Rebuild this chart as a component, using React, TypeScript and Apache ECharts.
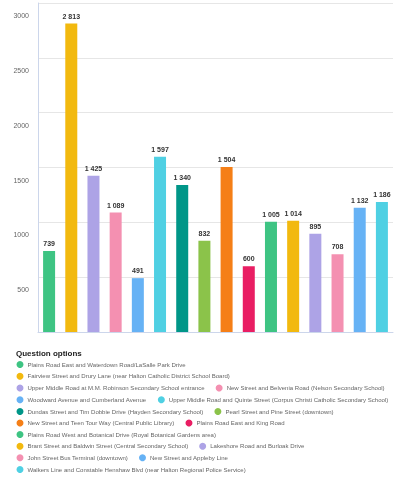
import React, { useEffect, useRef } from "react";
import * as echarts from "echarts";

const categories: string[] = [
  "Plains Road East and Waterdown Road/LaSalle Park Drive",
  "Fairview Street and Drury Lane (near Halton Catholic District School Board)",
  "Upper Middle Road at M.M. Robinson Secondary School entrance",
  "New Street and Belvenia Road (Nelson Secondary School)",
  "Woodward Avenue and Cumberland Avenue",
  "Upper Middle Road and Quinte Street (Corpus Christi Catholic Secondary School)",
  "Dundas Street and Tim Dobbie Drive (Hayden Secondary School)",
  "Pearl Street and Pine Street (downtown)",
  "New Street and Teen Tour Way (Central Public Library)",
  "Plains Road East and King Road",
  "Plains Road West and Botanical Drive (Royal Botanical Gardens area)",
  "Brant Street and Baldwin Street (Central Secondary School)",
  "Lakeshore Road and Burloak Drive",
  "John Street Bus Terminal (downtown)",
  "New Street and Appleby Line",
  "Walkers Line and Constable Henshaw Blvd (near Halton Regional Police Service)",
];

const values: number[] = [739, 2813, 1425, 1089, 491, 1597, 1340, 832, 1504, 600, 1005, 1014, 895, 708, 1132, 1186];

const colors: string[] = [
  "#3ec483", "#f2b90f", "#ada3e6", "#f490b1", "#66b2f5", "#4fd0e3", "#009688", "#8bc34a",
  "#f57f17", "#e91e63", "#3ec483", "#f2b90f", "#ada3e6", "#f490b1", "#66b2f5", "#4fd0e3",
];

const yTicks: number[] = [0, 500, 1000, 1500, 2000, 2500, 3000];

const legendRows: number[][] = [[0], [1], [2, 3], [4, 5], [6, 7], [8, 9], [10], [11, 12], [13, 14], [15]];
const legendRowTops: number[] = [361, 372.7, 384.5, 396.3, 408, 419.5, 431, 442.7, 454.3, 466];

const FONT = "'Liberation Sans', Arial, Helvetica, sans-serif";

function fmt(v: number): string {
  return String(v).replace(/\B(?=(\d{3})+(?!\d))/g, " ");
}

export default function App() {
  const ref = useRef<HTMLDivElement>(null);
  useEffect(() => {
    if (!ref.current) return;
    const chart = echarts.init(ref.current, undefined, { renderer: "svg" });
    const series = categories.map((name, i) => ({
      type: "bar",
      name,
      stack: "all",
      barWidth: 12,
      data: categories.map((_, j) => (j === i ? values[i] : "-")),
      itemStyle: { color: colors[i] },
      label: {
        show: true,
        position: "top",
        distance: 4,
        fontSize: 7,
        fontWeight: "bold",
        color: "#333",
        fontFamily: FONT,
        formatter: (p: any) => fmt(p.value),
      },
    }));
    const legends = legendRows.map((row, r) => ({
      left: 16.5,
      top: legendRowTops[r],
      padding: 0,
      orient: "horizontal",
      itemWidth: 7,
      itemHeight: 7,
      itemGap: 11,
      icon: "circle",
      selectedMode: false,
      data: row.map((i) => categories[i]),
      textStyle: { fontSize: 6.05, color: "#666", fontFamily: FONT, padding: [0, 0, 0, -1] },
    }));
    chart.setOption({
      animation: false,
      textStyle: { fontFamily: FONT },
      title: {
        text: "Question options",
        left: 16,
        top: 349,
        padding: 0,
        textStyle: { fontSize: 8, fontWeight: "bold", color: "#222", fontFamily: FONT },
      },
      grid: { left: 38, right: 17, top: 3, bottom: 149, containLabel: false },
      xAxis: {
        type: "category",
        data: categories,
        axisLine: { show: true, lineStyle: { color: "#ccd6eb", width: 1 } },
        axisTick: { show: false },
        axisLabel: { show: false },
      },
      yAxis: {
        type: "value",
        min: yTicks[0],
        max: yTicks[yTicks.length - 1],
        interval: 500,
        axisLine: { show: true, lineStyle: { color: "#ccd6eb", width: 1 } },
        axisTick: { show: false },
        splitLine: { show: true, lineStyle: { color: "#e6e6e6", width: 1 } },
        axisLabel: {
          fontSize: 7,
          color: "#666",
          margin: 9,
          verticalAlign: "top",
          padding: [9, 0, 0, 0],
          fontFamily: FONT,
          formatter: (v: number) => (v === 0 ? "" : String(v)),
        },
      },
      legend: legends,
      series,
    });
    return () => chart.dispose();
  }, []);
  return <div ref={ref} style={{ position: "fixed", left: 0, top: 0, width: 410, height: 481 }} />;
}
